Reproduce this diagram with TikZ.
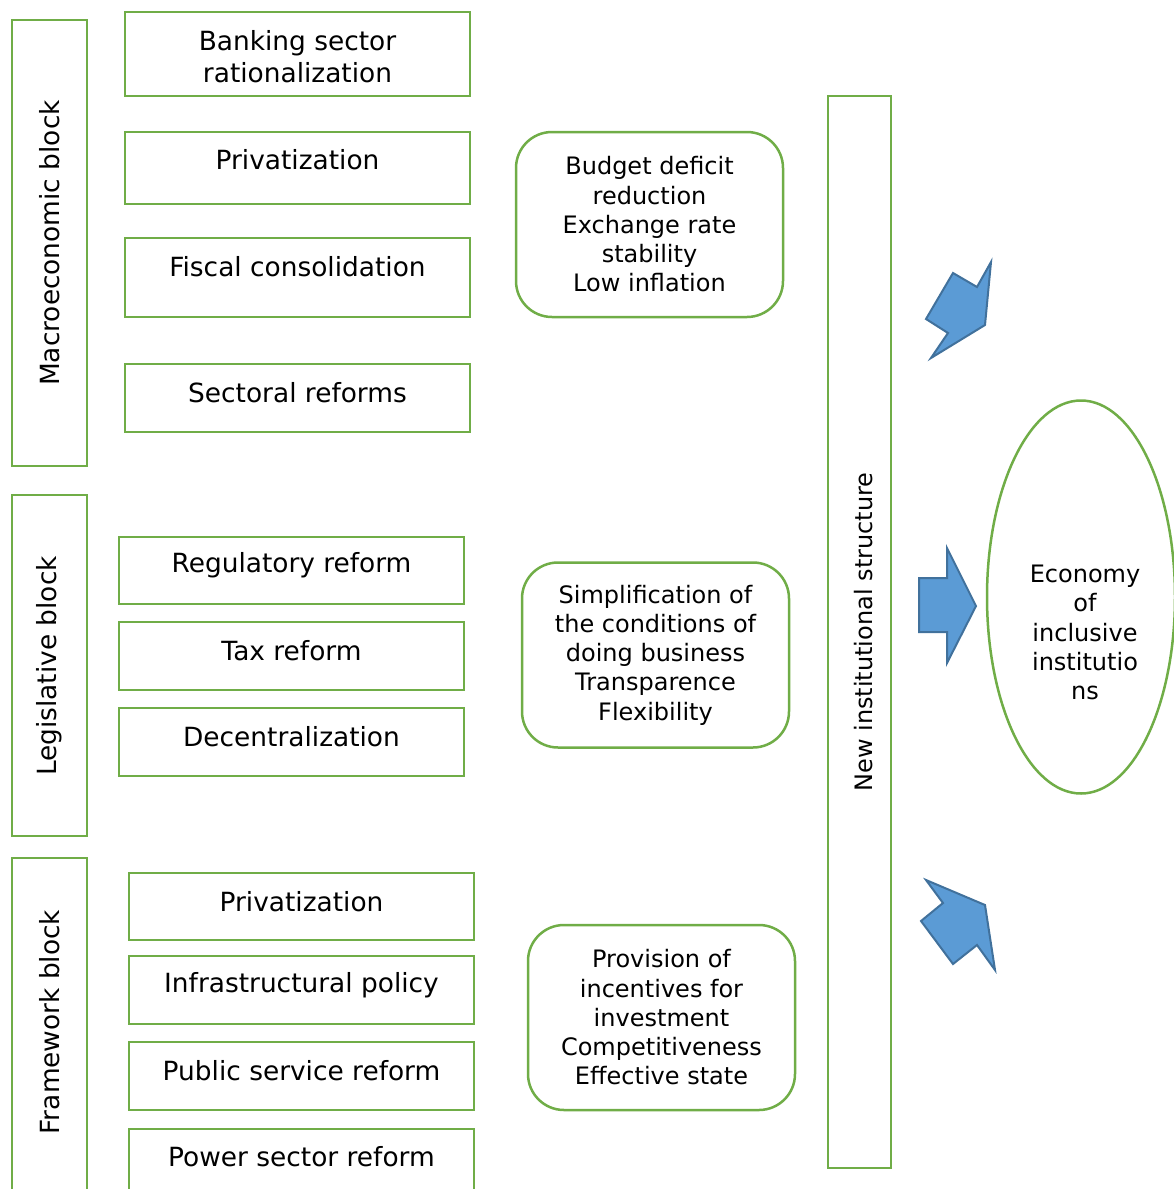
\documentclass[tikz,border=0pt]{standalone}
\usepackage{fontspec}
\setmainfont{DejaVu Sans}
\usetikzlibrary{shapes.geometric}
\definecolor{boxgreen}{HTML}{70AD47}
\definecolor{arrfill}{HTML}{5B9BD5}
\definecolor{arrline}{HTML}{41719C}
\tikzset{
  big/.style={font=\fontsize{26.4}{32}\selectfont},
  small/.style={font=\fontsize{24}{29.25}\selectfont},
  gbox/.style={draw=boxgreen, line width=2.5pt, rectangle, inner sep=0pt},
  rbox/.style={gbox, rounded corners=36pt, minimum width=267pt, minimum height=185pt},
  txt/.style={inner sep=0pt, align=center, text=black},
  blockarrow/.style={fill=arrfill, draw=arrline, line width=2pt, line join=miter}
}
\begin{document}
\begin{tikzpicture}[x=1pt,y=-1pt]
\useasboundingbox (0,0) rectangle (1174,1189);
% left blocks
\node[gbox, minimum width=75pt, minimum height=446pt] (macro) at (49.5,243) {};
\node[txt, big, rotate=90] (macrot) at (49.5,243) {Macroeconomic block};
\node[gbox, minimum width=75pt, minimum height=341pt] (legis) at (49.5,665.5) {};
\node[txt, big, rotate=90] (legist) at (49.5,666) {Legislative block};
\node[gbox, minimum width=75pt, minimum height=340pt] (frame) at (49.5,1028) {};
\node[txt, big, rotate=90] (framet) at (49.5,1022) {Framework block};
% macro boxes
\node[gbox, minimum width=345pt, minimum height=84pt] (bank) at (297.5,54) {};
\node[txt, big] (bankt) at (297.5,57) {Banking sector\\rationalization};
\node[gbox, minimum width=345pt, minimum height=72pt] (priv) at (297.5,168) {};
\node[txt, big] (privt) at (297.5,160) {Privatization};
\node[gbox, minimum width=345pt, minimum height=79pt] (fisc) at (297.5,277.5) {};
\node[txt, big] (fisct) at (297.5,267) {Fiscal consolidation};
\node[gbox, minimum width=345pt, minimum height=68pt] (sect) at (297.5,398) {};
\node[txt, big] (sectt) at (297.5,393) {Sectoral reforms};
% legislative boxes
\node[gbox, minimum width=345pt, minimum height=67pt] (regul) at (291.5,570.5) {};
\node[txt, big] (regult) at (291.5,565) {Regulatory reform};
\node[gbox, minimum width=345pt, minimum height=68pt] (tax) at (291.5,656) {};
\node[txt, big] (taxt) at (291.5,651) {Tax reform};
\node[gbox, minimum width=345pt, minimum height=68pt] (decen) at (291.5,742) {};
\node[txt, big] (decent) at (291.5,737) {Decentralization};
% framework boxes
\node[gbox, minimum width=345pt, minimum height=67pt] (privb) at (301.5,906.5) {};
\node[txt, big] (privbt) at (301.5,902) {Privatization};
\node[gbox, minimum width=345pt, minimum height=68pt] (infra) at (301.5,990) {};
\node[txt, big] (infrat) at (301.5,985) {Infrastructural policy};
\node[gbox, minimum width=345pt, minimum height=68pt] (publ) at (301.5,1076) {};
\node[txt, big] (publt) at (301.5,1071) {Public service reform};
\node[gbox, minimum width=345pt, minimum height=68pt] (power) at (301.5,1163) {};
\node[txt, big] (powert) at (301.5,1157) {Power sector reform};
% rounded outcome boxes
\node[rbox, small, txt] (budget) at (649.5,224.5) {Budget deficit\\reduction\\Exchange rate\\stability\\Low inflation};
\node[rbox, small, txt] (simpl) at (655.5,655) {Simplification of\\the conditions of\\doing business\\Transparence\\Flexibility};
\node[rbox, small, txt] (prov) at (661.5,1017.5) {Provision of\\incentives for\\investment\\Competitiveness\\Effective state};
% new institutional structure
\node[gbox, minimum width=63pt, minimum height=1072pt] (nis) at (859.5,632) {};
\node[txt, small, rotate=90] (nist) at (864,632) {New institutional structure};
% ellipse
\node[draw=boxgreen, line width=2.5pt, ellipse, minimum width=188pt, minimum height=393pt, inner sep=0pt] (econ) at (1081,597) {};
\node[txt, small] (econt) at (1085,632.5) {Economy\\of\\inclusive\\institutio\\ns};
% block arrows
\draw[blockarrow] (926,319) -- (953,273) -- (977,287) -- (991,262) -- (985,325) -- (931,358) -- (948,333) -- cycle;
\draw[blockarrow] (919,578) -- (947,578) -- (947,548) -- (976,606) -- (947,663) -- (947,632) -- (919,632) -- cycle;
\draw[blockarrow] (926,880) -- (985,905) -- (995,970) -- (977,945) -- (953,964) -- (921,921) -- (943,903) -- cycle;
\end{tikzpicture}
\end{document}
